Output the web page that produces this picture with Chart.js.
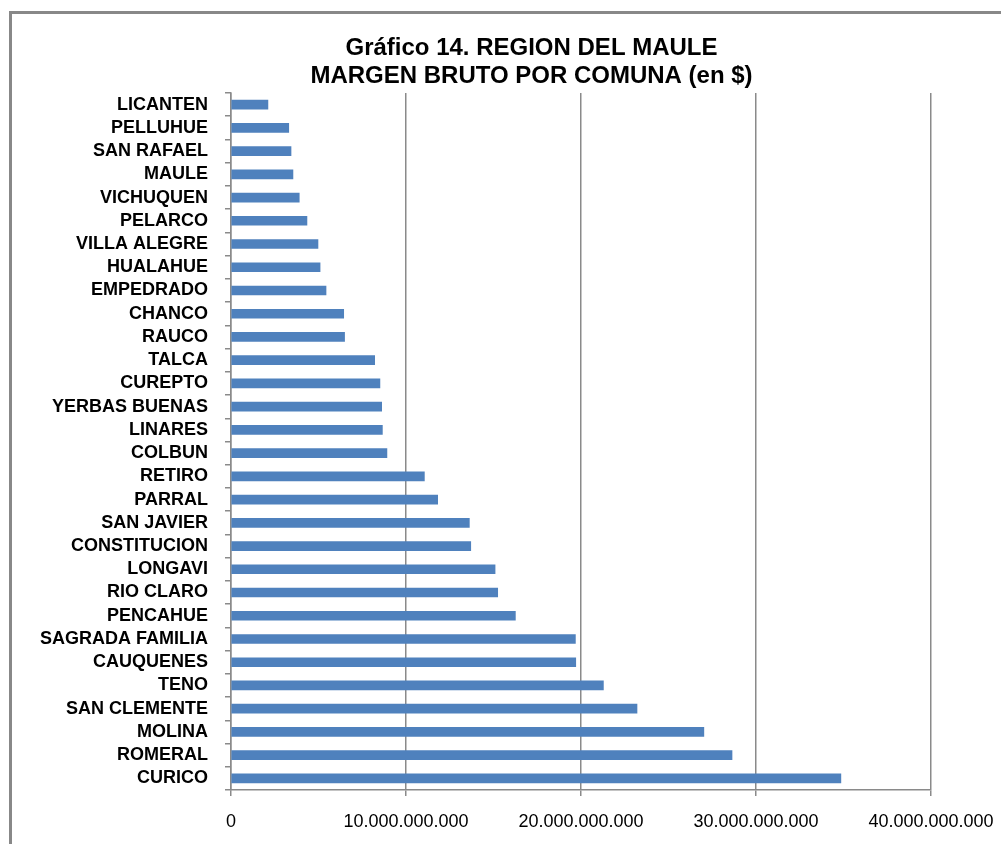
<!DOCTYPE html>
<html>
<head>
<meta charset="utf-8">
<script src="https://cdn.jsdelivr.net/npm/chart.js@4/dist/chart.umd.min.js"></script>
<style>
	html, body { margin: 0; padding: 0; background: #fff; }
	canvas { display: block; }
</style>
</head>
<body>
<canvas id="chart-margen" width="1001" height="844"></canvas>
<script>
const COMUNAS = [
	"LICANTEN", "PELLUHUE", "SAN RAFAEL", "MAULE", "VICHUQUEN", "PELARCO",
	"VILLA ALEGRE", "HUALAHUE", "EMPEDRADO", "CHANCO", "RAUCO", "TALCA",
	"CUREPTO", "YERBAS BUENAS", "LINARES", "COLBUN", "RETIRO", "PARRAL",
	"SAN JAVIER", "CONSTITUCION", "LONGAVI", "RIO CLARO", "PENCAHUE",
	"SAGRADA FAMILIA", "CAUQUENES", "TENO", "SAN CLEMENTE", "MOLINA",
	"ROMERAL", "CURICO",
];
const MARGEN_BRUTO = [
	2110000000, 3300000000, 3430000000, 3540000000, 3900000000, 4340000000,
	4970000000, 5090000000, 5430000000, 6440000000, 6490000000, 8210000000,
	8510000000, 8610000000, 8650000000, 8910000000, 11050000000, 11810000000,
	13620000000, 13700000000, 15090000000, 15240000000, 16250000000,
	19680000000, 19700000000, 21280000000, 23200000000, 27020000000,
	28630000000, 34850000000,
];
const X_MIN = 0;
const X_MAX = 40000000000;
const X_STEP = 10000000000;
const TITLE_LINES = ["Gráfico 14. REGION DEL MAULE", "MARGEN BRUTO POR COMUNA (en $)"];

const FONT = "'Liberation Sans', Arial, sans-serif";
const GRID = "#8a8a8a";

// dots as thousands separator, like the original sheet
const formatPesos = (v) => String(Math.round(v)).replace(/\B(?=(\d{3})+(?!\d))/g, ".");

// grey frame of the chart object (only left and top are inside the window)
const frameLines = {
	id: "frameLines",
	beforeDraw(chart) {
		const { ctx } = chart;
		ctx.save();
		ctx.fillStyle = "#fff";
		ctx.fillRect(0, 0, chart.width, chart.height);
		ctx.strokeStyle = "#888888";
		ctx.lineWidth = 3;
		ctx.beginPath();
		ctx.moveTo(10.5, chart.height + 5);
		ctx.lineTo(10.5, 12.5);
		ctx.lineTo(chart.width + 5, 12.5);
		ctx.stroke();
		ctx.restore();
	},
	// Excel centres the title a bit right of the canvas middle
	afterLayout(chart) {
		if (chart.titleBlock) {
			chart.titleBlock.left += 21;
			chart.titleBlock.right += 21;
		}
	},
};

const CHART_WRAPPER = document.getElementById("chart-margen");

new Chart(CHART_WRAPPER, {
	type: "bar",
	data: {
		labels: COMUNAS,
		datasets: [
			{
				label: "Margen bruto",
				data: MARGEN_BRUTO,
				backgroundColor: "#4F81BD",
				borderWidth: 0,
				barThickness: 9,
			},
		],
	},
	options: {
		indexAxis: "y",
		responsive: false,
		animation: false,
		devicePixelRatio: 1,
		layout: {
			padding: { left: 20, right: 0, top: 0, bottom: 0 },
		},
		plugins: {
			legend: { display: false },
			tooltip: { enabled: false },
			title: {
				display: true,
				text: TITLE_LINES,
				color: "#000",
				font: { family: FONT, size: 24, weight: "bold", lineHeight: 1.15 },
				padding: { top: 34.5, bottom: 3.3 },
			},
		},
		scales: {
			x: {
				min: X_MIN,
				max: X_MAX,
				border: { display: true, color: GRID, width: 1.5 },
				grid: {
					color: GRID,
					lineWidth: 1.5,
					drawTicks: true,
					tickLength: 6,
				},
				ticks: {
					stepSize: X_STEP,
					color: "#000",
					padding: 15,
					maxRotation: 0,
					font: { family: FONT, size: 18 },
					callback: (value) => formatPesos(value),
				},
				afterFit: (scale) => {
					scale.height = 54;
					// room for the half of the last tick label
					scale.paddingLeft = 0;
					scale.paddingRight = 70;
				},
			},
			y: {
				border: { display: true, color: GRID, width: 1.5 },
				grid: {
					color: GRID,
					lineWidth: 1.5,
					drawOnChartArea: false,
					drawTicks: true,
					tickLength: 6,
				},
				ticks: {
					color: "#000",
					padding: 17,
					autoSkip: false,
					font: { family: FONT, size: 18, weight: "bold" },
				},
				afterFit: (scale) => {
					scale.width = 211;
				},
			},
		},
	},
	plugins: [frameLines],
});
</script>
</body>
</html>
